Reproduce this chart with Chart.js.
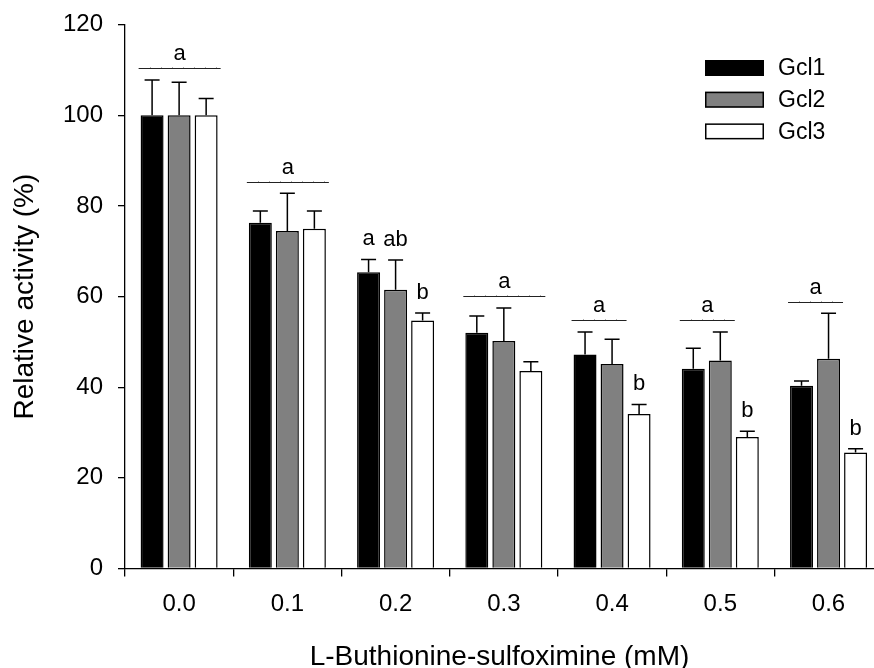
<!DOCTYPE html>
<html><head><meta charset="utf-8">
<script src="https://cdn.jsdelivr.net/npm/chart.js@4.4.0/dist/chart.umd.min.js"></script>
<style>html,body{margin:0;padding:0;background:#fff;overflow:hidden}#wrap{width:874px;height:668px;position:relative}</style>
</head><body><div id="wrap"><canvas id="c" width="874" height="668"></canvas></div>
<script>
// ---- data ----
const doses = [0.0, 0.1, 0.2, 0.3, 0.4, 0.5, 0.6];
const xTickLabels = ['0.0', '0.1', '0.2', '0.3', '0.4', '0.5', '0.6'];
const yTicks = [0, 20, 40, 60, 80, 100, 120];
const seriesNames = ['Gcl1', 'Gcl2', 'Gcl3'];
const gcl1 = [100, 76.3, 65.4, 52.0, 47.2, 44.1, 40.3];
const gcl2 = [100, 74.5, 61.5, 50.2, 45.1, 45.9, 46.3];
const gcl3 = [100, 75.0, 54.7, 43.6, 34.1, 29.0, 25.6];
const gcl1Err = [7.8, 2.6, 2.8, 3.7, 5.0, 4.5, 1.1];
const gcl2Err = [7.3, 8.3, 6.6, 7.3, 5.5, 6.3, 10.0];
const gcl3Err = [3.7, 3.9, 1.7, 2.0, 2.1, 1.3, 0.8];
// significance: letter over a line spanning series [first,last] at each dose
const groupLetters = ['a', 'a', null, 'a', 'a', 'a', 'a'];
const groupLineY = [110.4, 85.2, null, 60.1, 54.8, 54.8, 58.7];
const groupSpan = [[0, 2], [0, 2], null, [0, 2], [0, 1], [0, 1], [0, 1]];
// letters over single bars: [dose index, series index, letter]
const barLetters = [[2, 0, 'a'], [2, 1, 'ab'], [2, 2, 'b'], [4, 2, 'b'], [5, 2, 'b'], [6, 2, 'b']];

const FONT = "'Liberation Sans', Arial, Helvetica, sans-serif";
const fills = ['#000000', '#808080', '#ffffff'];
const values = [gcl1, gcl2, gcl3];
const errs = [gcl1Err, gcl2Err, gcl3Err];

const datasets = seriesNames.map((n, i) => ({
  label: n,
  data: doses.map((d, j) => ({ x: d, y: values[i][j] })),
  backgroundColor: fills[i],
  borderColor: '#000',
  borderWidth: 1.5,
  borderSkipped: 'bottom',
  categoryPercentage: 0.749,
  barPercentage: 0.85
}));

const extras = {
  id: 'extras',
  afterDatasetsDraw(chart) {
    const c = chart.ctx;
    const ys = chart.scales.y;
    c.save();
    // error bars (upper only)
    c.strokeStyle = '#000';
    c.lineWidth = 1.5;
    datasets.forEach((ds, i) => {
      const meta = chart.getDatasetMeta(i);
      meta.data.forEach((bar, j) => {
        const top = ys.getPixelForValue(values[i][j] + errs[i][j]);
        c.beginPath();
        c.moveTo(bar.x, bar.y);
        c.lineTo(bar.x, top);
        c.moveTo(bar.x - 7.5, top);
        c.lineTo(bar.x + 7.5, top);
        c.stroke();
      });
    });
    // group lines + letters
    c.fillStyle = '#000';
    c.textAlign = 'center';
    c.textBaseline = 'alphabetic';
    c.font = '22px ' + FONT;
    groupLetters.forEach((L, j) => {
      if (!L) return;
      const a = chart.getDatasetMeta(groupSpan[j][0]).data[j];
      const b = chart.getDatasetMeta(groupSpan[j][1]).data[j];
      const x1 = a.x - a.width / 2 - 2, x2 = b.x + b.width / 2 + 3;
      const y = Math.round(ys.getPixelForValue(groupLineY[j])) + 0.5;
      c.strokeStyle = '#222';
      c.lineWidth = 1;
      c.beginPath(); c.moveTo(x1, y); c.lineTo(x2, y); c.stroke();
      c.strokeStyle = '#b0b0b0';
      c.beginPath();
      for (let t = x1 + 11; t < x2 - 4; t += 11) { c.moveTo(Math.round(t) + 0.5, y - 1.5); c.lineTo(Math.round(t) + 0.5, y - 0.5); }
      c.stroke();
      c.fillText(L, (x1 + x2) / 2, y - 9);
    });
    barLetters.forEach(([j, i, L]) => {
      const bar = chart.getDatasetMeta(i).data[j];
      const top = ys.getPixelForValue(values[i][j] + errs[i][j]);
      c.fillText(L, bar.x, top - 14);
    });
    // legend
    const lx = 705, ly = 60, lw = 59, lh = 16, step = 31.7;
    c.font = '23px ' + FONT;
    c.textAlign = 'left';
    c.textBaseline = 'middle';
    datasets.forEach((ds, i) => {
      const y = ly + i * step;
      c.fillStyle = ds.backgroundColor;
      c.fillRect(lx, y, lw, lh);
      c.strokeStyle = '#000';
      c.lineWidth = 1.5;
      c.strokeRect(lx + 0.75, y + 0.75, lw - 1.5, lh - 1.5);
      c.fillStyle = '#000';
      c.fillText(ds.label, 778, y + lh / 2 + 1);
    });
    c.restore();
  }
};

const chart = new Chart(document.getElementById('c'), {
  type: 'bar',
  data: { datasets },
  options: {
    responsive: false,
    animation: false,
    devicePixelRatio: 1,
    layout: { padding: { top: 24.7, right: 0, left: 0, bottom: 0 } },
    plugins: { legend: { display: false }, tooltip: { enabled: false } },
    scales: {
      x: {
        type: 'linear',
        min: -0.05,
        max: 0.642,
        offset: false,
        afterBuildTicks: s => { s.ticks = doses.map(v => ({ value: v })); },
        ticks: {
          callback: (v, i) => xTickLabels[i],
          font: { family: FONT, size: 24 },
          color: '#000',
          padding: 13,
          maxRotation: 0,
          autoSkip: false
        },
        grid: { drawOnChartArea: false, drawTicks: true, tickLength: 8, color: '#000', lineWidth: 1.3 },
        border: { display: true, color: '#000', width: 1.3 },
        title: { display: true, text: 'L-Buthionine-sulfoximine (mM)', font: { family: FONT, size: 28, lineHeight: 1.0 }, color: '#000', padding: { top: 0, bottom: -3 } },
        afterFit: s => { s.height = 99.5; s.paddingLeft = 0; s.paddingRight = 0; }
      },
      y: {
        min: 0,
        max: 120,
        afterBuildTicks: s => { s.ticks = yTicks.map(v => ({ value: v })); },
        ticks: { font: { family: FONT, size: 24 }, color: '#000', padding: 15 },
        grid: { drawOnChartArea: false, drawTicks: true, tickLength: 7, color: '#000', lineWidth: 1.3 },
        border: { display: true, color: '#000', width: 1.3 },
        title: { display: true, text: 'Relative activity (%)', font: { family: FONT, size: 28, lineHeight: 1.2 }, color: '#000', padding: { top: 8, bottom: 0 } },
        afterFit: s => { s.width = 125; s.paddingTop = 0; s.paddingBottom = 0; }
      }
    }
  },
  plugins: [extras]
});
</script>
</body></html>
